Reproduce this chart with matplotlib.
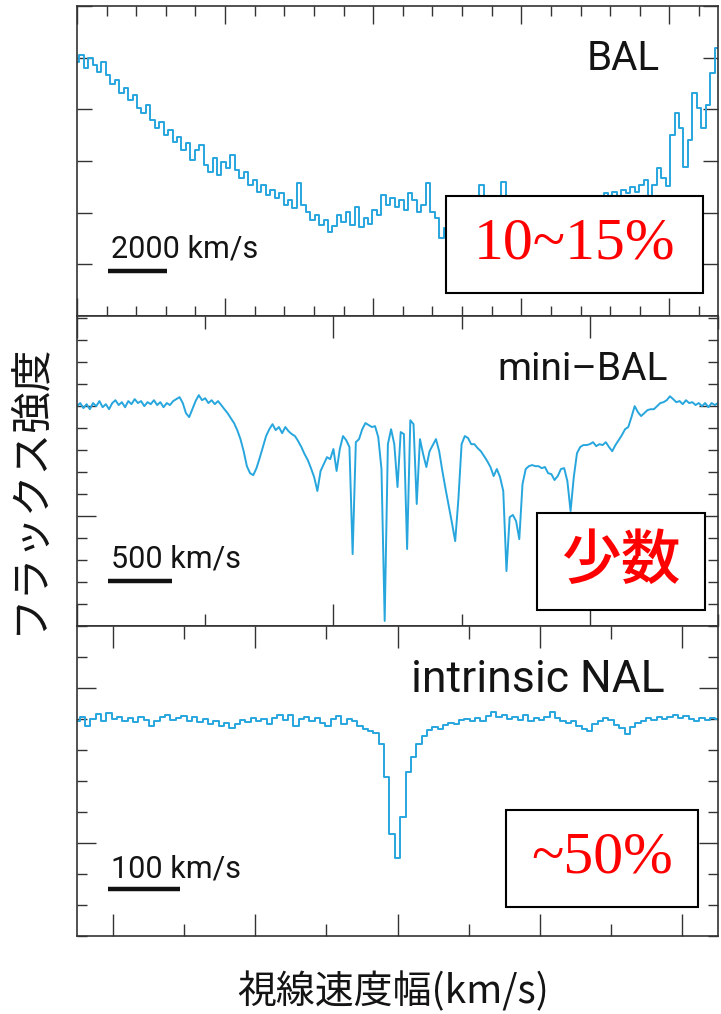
import numpy as np
import matplotlib
matplotlib.use("Agg")
import matplotlib.pyplot as plt
from matplotlib.patches import Rectangle
from matplotlib.ticker import MultipleLocator, FixedLocator
import matplotlib.transforms as mtransforms

# ---------------- data ----------------
# BAL spectrum: flux (arbitrary units) sampled every 150 km/s
bal_step_kms = 150.0
bal_flux = [
    4.92, 5.05, 4.80, 4.99, 4.86, 4.72, 4.92, 4.66, 4.49, 4.57,
    4.32, 4.41, 4.18, 4.28, 4.03, 3.93, 4.08, 3.79, 3.64, 3.75,
    3.50, 3.60, 3.37, 3.46, 3.21, 3.35, 3.02, 3.21, 3.31, 2.92,
    2.79, 3.06, 2.73, 2.98, 2.86, 3.12, 2.83, 2.67, 2.79, 2.54,
    2.63, 2.40, 2.54, 2.34, 2.44, 2.28, 2.38, 2.15, 2.25, 2.09,
    2.57, 2.15, 2.01, 1.86, 1.95, 1.76, 1.86, 1.63, 1.74, 1.95,
    1.82, 2.01, 1.76, 2.11, 1.72, 1.90, 1.78, 2.05, 1.95, 2.34,
    2.15, 2.28, 2.11, 2.25, 2.05, 2.38, 2.25, 2.01, 2.15, 2.57,
    2.01, 1.90, 1.51, 1.70, 1.63, 1.76, 1.57, 1.70, 1.82, 1.66,
    2.05, 2.54, 1.90, 1.76, 1.95, 1.82, 2.59, 1.86, 1.70, 1.90,
    1.76, 1.95, 1.82, 2.01, 1.90, 2.05, 1.95, 2.15, 2.01, 2.19,
    2.09, 2.25, 2.13, 2.28, 2.17, 2.32, 2.21, 2.32, 2.25, 2.38,
    2.28, 2.40, 2.32, 2.44, 2.38, 2.50, 2.40, 2.54, 2.63, 2.32,
    2.54, 2.86, 2.67, 2.52, 3.50, 3.93, 3.64, 2.88, 3.41, 4.32,
    4.03, 3.64, 4.08, 4.70, 5.19,
]

# mini-BAL spectrum: normalized flux sampled every 25 km/s
minibal_step_kms = 25.0
minibal_flux = [
    1.000, 1.014, 0.991, 1.009, 0.986, 1.014, 1.000, 1.023, 0.995, 1.009,
    0.986, 1.014, 1.027, 1.005, 1.018, 0.995, 1.023, 1.009, 1.032, 1.014,
    1.023, 1.000, 1.018, 1.009, 1.027, 1.005, 1.018, 0.995, 1.014, 1.005,
    1.023, 1.032, 1.041, 1.014, 0.968, 0.950, 0.986, 1.023, 1.050, 1.027,
    1.036, 1.014, 1.027, 1.009, 1.023, 1.005, 0.986, 0.968, 0.945, 0.923,
    0.891, 0.850, 0.795, 0.727, 0.695, 0.686, 0.718, 0.764, 0.814, 0.864,
    0.895, 0.918, 0.891, 0.905, 0.877, 0.905, 0.886, 0.873, 0.864, 0.841,
    0.814, 0.782, 0.755, 0.718, 0.677, 0.614, 0.705, 0.736, 0.768, 0.759,
    0.805, 0.705, 0.805, 0.864, 0.845, 0.814, 0.327, 0.836, 0.850, 0.895,
    0.923, 0.914, 0.905, 0.909, 0.859, 0.714, 0.023, 0.827, 0.895, 0.827,
    0.632, 0.882, 0.873, 0.350, 0.936, 0.918, 0.555, 0.850, 0.782, 0.723,
    0.795, 0.823, 0.850, 0.795, 0.705, 0.623, 0.545, 0.468, 0.386, 0.577,
    0.827, 0.864, 0.855, 0.827, 0.827, 0.809, 0.795, 0.773, 0.750, 0.723,
    0.682, 0.714, 0.677, 0.614, 0.250, 0.495, 0.505, 0.477, 0.395, 0.645,
    0.714, 0.727, 0.732, 0.727, 0.727, 0.718, 0.723, 0.695, 0.691, 0.664,
    0.682, 0.714, 0.718, 0.659, 0.523, 0.677, 0.786, 0.814, 0.823, 0.823,
    0.827, 0.836, 0.818, 0.827, 0.823, 0.836, 0.814, 0.795, 0.823, 0.845,
    0.868, 0.895, 0.905, 0.950, 1.000, 0.973, 0.955, 0.968, 0.982, 0.986,
    0.986, 1.000, 1.014, 1.018, 1.027, 1.045, 1.032, 1.018, 1.023, 1.009,
    1.027, 1.014, 1.018, 1.005, 1.014, 1.000, 1.014, 0.995, 1.014, 1.005,
    1.014,
]

# intrinsic NAL spectrum: normalized flux sampled every 7.5 km/s from -50 km/s
nal_start_kms = -50.0
nal_step_kms = 7.5
nal_flux = [
    0.994, 1.006, 0.977, 1.000, 1.016, 0.994, 1.019, 1.000, 1.006, 0.994,
    1.003, 0.990, 1.006, 0.997, 0.977, 0.994, 1.006, 1.013, 0.997, 1.003,
    1.010, 0.994, 1.006, 0.990, 1.000, 0.984, 0.994, 0.977, 0.987, 0.971,
    0.984, 0.997, 0.990, 1.003, 0.994, 1.000, 0.984, 1.003, 1.013, 0.997,
    1.013, 0.977, 1.000, 1.006, 0.994, 1.003, 0.987, 0.977, 1.000, 1.010,
    0.984, 1.000, 0.994, 0.977, 0.968, 0.961, 0.955, 0.919, 0.812, 0.628,
    0.553, 0.683, 0.828, 0.877, 0.919, 0.945, 0.964, 0.974, 0.968, 0.981,
    0.987, 0.984, 0.997, 1.000, 0.994, 1.003, 0.994, 1.010, 1.023, 1.006,
    1.013, 1.000, 1.006, 0.997, 1.013, 0.994, 1.003, 0.997, 1.006, 1.023,
    1.003, 0.994, 0.987, 0.994, 0.977, 0.968, 0.961, 0.984, 0.994, 1.003,
    0.997, 0.981, 0.971, 0.951, 0.974, 0.987, 0.994, 1.003, 0.997, 1.006,
    1.000, 1.006, 1.013, 1.003, 1.010, 1.000, 0.994, 1.003, 0.997, 1.003,
    1.000,
]

panel_names = ["BAL", "mini\u2013BAL", "intrinsic NAL"]
fraction_labels = ["10~15%", "少数", "~50%"]
scale_bar_kms = [2000, 500, 100]
scale_bar_labels = ["2000 km/s", "500 km/s", "100 km/s"]
x_label = "視線速度幅(km/s)"
y_label = "フラックス強度"

# ---------------- figure ----------------
LINE_COLOR = "#27a6de"
FRAME_COLOR = "#333333"
TEXT_COLOR = "#141414"
LATIN = ["Roboto", "DejaVu Sans"]
SERIF = ["Liberation Serif", "DejaVu Serif"]
CJK = ["Noto Sans CJK JP", "DejaVu Sans"]

W_PX, H_PX = 721, 1014
fig = plt.figure(figsize=(W_PX / 100, H_PX / 100), dpi=100)
left, width, height = 77 / W_PX, 641 / W_PX, 310 / H_PX
ax1 = fig.add_axes([left, (H_PX - 316) / H_PX, width, height])
ax2 = fig.add_axes([left, (H_PX - 626) / H_PX, width, height])
ax3 = fig.add_axes([left, (H_PX - 936) / H_PX, width, height])
axes = [ax1, ax2, ax3]

x_bal = np.arange(len(bal_flux)) * bal_step_kms
x_mini = np.arange(len(minibal_flux)) * minibal_step_kms
x_nal = nal_start_kms + np.arange(len(nal_flux)) * nal_step_kms

ax1.plot(x_bal, bal_flux, color=LINE_COLOR, lw=1.4, drawstyle="steps-mid", zorder=2)
ax2.plot(x_mini, minibal_flux, color=LINE_COLOR, lw=1.4, zorder=2)
ax3.plot(x_nal, nal_flux, color=LINE_COLOR, lw=1.4, drawstyle="steps-mid", zorder=2)

ax1.set_xlim(0, 21640)
ax1.set_ylim(0, 6)
ax2.set_xlim(0, 5000)
ax2.set_ylim(0, 1.41)
ax3.set_xlim(-50, 850)
ax3.set_ylim(0.3, 1.3)

# tick layout
ax1.xaxis.set_major_locator(MultipleLocator(5000))
ax1.xaxis.set_minor_locator(MultipleLocator(1000))
ax1.yaxis.set_major_locator(MultipleLocator(1))
ax1.tick_params(axis="x", which="major", length=13)
ax1.tick_params(axis="x", which="minor", length=7)
ax1.tick_params(axis="y", which="major", length=11)

ax2.xaxis.set_major_locator(MultipleLocator(2000))
ax2.xaxis.set_minor_locator(MultipleLocator(1000))
ax2.yaxis.set_major_locator(FixedLocator([0.5, 1.0]))
ax2.yaxis.set_minor_locator(MultipleLocator(0.1))
ax2.tick_params(axis="x", which="major", length=16)
ax2.tick_params(axis="x", which="minor", length=9)
ax2.tick_params(axis="y", which="major", length=14)
ax2.tick_params(axis="y", which="minor", length=7)

ax3.xaxis.set_major_locator(MultipleLocator(200))
ax3.xaxis.set_minor_locator(MultipleLocator(100))
ax3.yaxis.set_major_locator(FixedLocator([0.6, 1.1]))
ax3.yaxis.set_minor_locator(MultipleLocator(0.1))
ax3.tick_params(axis="x", which="major", length=16)
ax3.tick_params(axis="x", which="minor", length=9)
ax3.tick_params(axis="y", which="major", length=14)
ax3.tick_params(axis="y", which="minor", length=7)

for ax in axes:
    ax.tick_params(which="both", direction="in", top=True, right=True,
                   labelbottom=False, labelleft=False, width=1.0,
                   color=FRAME_COLOR)
    for sp in ax.spines.values():
        sp.set_color(FRAME_COLOR)
        sp.set_linewidth(1.2)
        sp.set_zorder(5)

# panel names
name_pos = [(0.9095, 0.794, 29), (0.922, 0.794, 28), (0.917, 0.787, 32)]
for ax, name, (nx, ny, fs) in zip(axes, panel_names, name_pos):
    ax.text(nx, ny, name, transform=ax.transAxes, ha="right", va="baseline",
            fontsize=fs, family=LATIN, color=TEXT_COLOR, zorder=4)

# velocity scale bars and their labels
bar_start = [1050, 240, -6]
bar_y = [0.145, 0.145, 0.152]
for ax, length, x0, yb, lab in zip(axes, scale_bar_kms, bar_start, bar_y,
                                    scale_bar_labels):
    trans = mtransforms.blended_transform_factory(ax.transData, ax.transAxes)
    ax.plot([x0, x0 + length], [yb, yb], color="#111111", lw=3.2,
            solid_capstyle="butt", transform=trans, zorder=4)
    ax.text(0.053, 0.19, lab, transform=ax.transAxes, ha="left", va="baseline",
            fontsize=22, family=LATIN, color=TEXT_COLOR, zorder=4)

# boxed fractions
boxes = [(0.575, 0.074, 0.402, 0.313), (0.718, 0.052, 0.262, 0.313),
         (0.669, 0.094, 0.300, 0.312)]
for i, (ax, lab, (bx, by, bw, bh)) in enumerate(zip(axes, fraction_labels, boxes)):
    ax.add_patch(Rectangle((bx, by), bw, bh, transform=ax.transAxes,
                           facecolor="white", edgecolor="black", lw=1.5,
                           zorder=3))
    fam = CJK if i == 1 else SERIF
    weight = "medium" if i == 1 else "normal"
    ax.text(bx + bw / 2, by + bh / 2, lab, transform=ax.transAxes,
            ha="center", va="center", fontsize=43, family=fam,
            fontweight=weight, color="#ff0000", zorder=4)

# axis titles
fig.text(29 / W_PX, 1 - 488 / H_PX, y_label, rotation=90, ha="center",
         va="center", fontsize=30, family=CJK, color=TEXT_COLOR)
fig.text(393 / W_PX, 1 - 992 / H_PX, x_label, ha="center", va="center",
         fontsize=28, family=CJK, color=TEXT_COLOR)

fig.savefig("out.png", dpi=100, facecolor="white")
